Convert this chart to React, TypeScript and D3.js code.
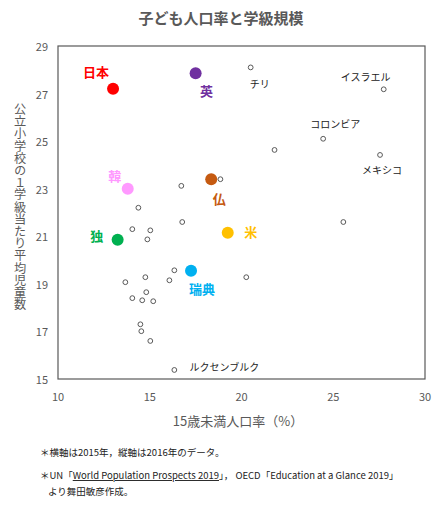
import * as d3 from 'd3';

// highlighted countries
const mainNames = ['日本', '英', '韓', '仏', '独', '米', '瑞典'];
const mainX = [13.0, 17.5, 13.8, 18.35, 13.25, 19.25, 17.25];
const mainY = [27.2, 27.85, 23.0, 23.4, 20.85, 21.15, 19.55];

// other OECD countries (small open circles)
const otherX = [20.5, 27.75, 24.45, 27.55, 21.8, 25.55, 18.85, 16.72, 14.38, 16.77, 14.05, 15.03, 14.87,
  16.34, 16.07, 20.26, 13.67, 14.76, 14.81, 14.05, 14.59, 15.19, 14.49, 14.54, 15.03, 16.34];
const otherY = [28.1, 27.18, 25.1, 24.42, 24.63, 21.6, 23.4, 23.12, 22.2, 21.6, 21.3, 21.25, 20.87,
  19.57, 19.15, 19.28, 19.07, 19.28, 18.65, 18.4, 18.31, 18.27, 17.3, 17.01, 16.6, 15.38];
const otherNames = ['チリ', 'イスラエル', 'コロンビア', 'メキシコ', '', '', '', '', '', '', '', '', '',
  '', '', '', '', '', '', '', '', '', '', '', '', 'ルクセンブルク'];

const xTicks = [10, 15, 20, 25, 30];
const yTicks = [15, 17, 19, 21, 23, 25, 27, 29];

// styling / label placement
const mainColors: Record<string, string> = {
  '日本': '#ff0000', '英': '#7030a0', '韓': '#ff99ff', '仏': '#c55a11',
  '独': '#00b050', '米': '#ffc000', '瑞典': '#00b0f0',
};
const mainOffset: Record<string, [number, number]> = {
  '日本': [-17, -17], '英': [11, 17], '韓': [-13, -13], '仏': [8, 19],
  '独': [-21, -4], '米': [23, -1], '瑞典': [11, 18],
};
const otherOffset: Record<string, [number, number]> = {
  'チリ': [9, 16], 'イスラエル': [-18, -13], 'コロンビア': [12, -15],
  'メキシコ': [2, 15], 'ルクセンブルク': [50, -3],
};

const FONT = '"Noto Sans CJK JP", "Noto Sans", sans-serif';
const GRAY = '#595959';

export default function App() {
  const width = 442;
  const height = 506;
  const x = d3.scaleLinear().domain([10, 30]).range([58, 425]);
  const y = d3.scaleLinear().domain([15, 29]).range([379, 46]);

  return (
    <svg width={width} height={height} style={{ position: 'absolute', left: 0, top: 0, fontFamily: FONT }}>
      <rect width={width} height={height} fill="#fff" />
      <text x={221} y={17} textAnchor="middle" dominantBaseline="central" fontSize={15} fontWeight="bold" fill={GRAY}>
        子ども人口率と学級規模
      </text>

      <rect x={x(10)} y={y(29)} width={x(30) - x(10)} height={y(15) - y(29)} fill="none" stroke={GRAY} strokeWidth={1.2} />

      {xTicks.map((t) => (
        <text key={'x' + t} x={x(t)} y={396} textAnchor="middle" dominantBaseline="central" fontSize={11} fill={GRAY}>
          {t}
        </text>
      ))}
      {yTicks.map((t) => (
        <text key={'y' + t} x={48} y={y(t)} textAnchor="end" dominantBaseline="central" fontSize={11} fill={GRAY}>
          {t}
        </text>
      ))}

      <text x={238} y={420} textAnchor="middle" dominantBaseline="central" fontSize={13} fill={GRAY}>
        15歳未満人口率（%）
      </text>
      <text x={20} y={207} textAnchor="middle" fontSize={12.2} fill={GRAY}
        style={{ writingMode: 'vertical-rl' }}>
        公立小学校の１学級当たり平均児童数
      </text>

      {otherX.map((v, i) => (
        <circle key={'o' + i} cx={x(v)} cy={y(otherY[i])} r={2.4} fill="#fff" stroke={GRAY} strokeWidth={1} />
      ))}
      {otherNames.map((n, i) =>
        n ? (
          <text key={'on' + i} x={x(otherX[i]) + otherOffset[n][0]} y={y(otherY[i]) + otherOffset[n][1]}
            textAnchor="middle" dominantBaseline="central" fontSize={10} fill="#222">
            {n}
          </text>
        ) : null
      )}

      {mainNames.map((n, i) => (
        <g key={'m' + n}>
          <circle cx={x(mainX[i])} cy={y(mainY[i])} r={6} fill={mainColors[n]} />
          <text x={x(mainX[i]) + mainOffset[n][0]} y={y(mainY[i]) + mainOffset[n][1]} textAnchor="middle"
            dominantBaseline="central" fontSize={13} fontWeight="bold" fill={mainColors[n]}>
            {n}
          </text>
        </g>
      ))}

      <g fontSize={9.5} fill="#222">
        <text x={40} y={452} dominantBaseline="central">＊横軸は2015年，縦軸は2016年のデータ。</text>
        <text x={40} y={475} dominantBaseline="central">
          ＊UN「<tspan textDecoration="underline" style={{ textDecoration: 'underline' }}>World Population Prospects 2019</tspan>」， OECD「Education at a Glance 2019」
        </text>
        <text x={48} y={491} dominantBaseline="central">より舞田敏彦作成。</text>
      </g>
    </svg>
  );
}
